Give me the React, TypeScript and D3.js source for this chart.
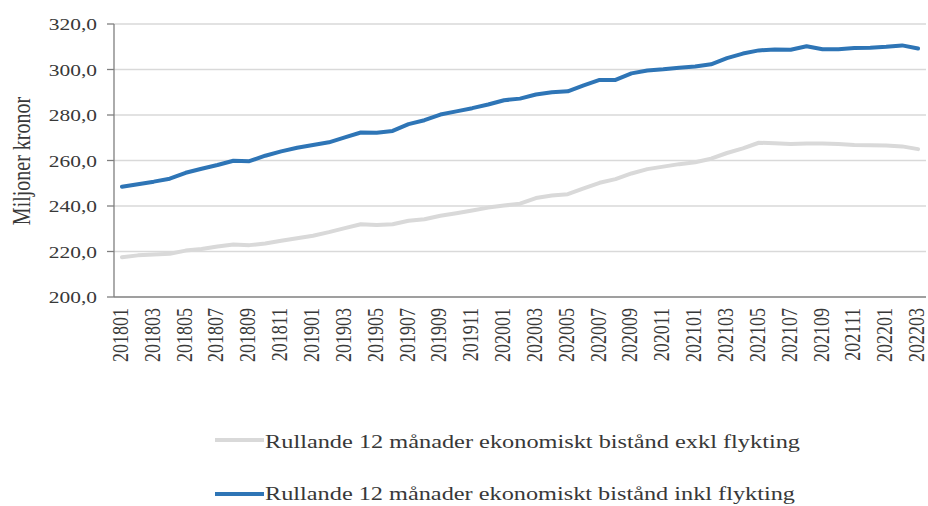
import React from "react";
import * as d3 from "d3";

const months: string[] = [
  "201801","201802","201803","201804","201805","201806","201807","201808","201809","201810","201811","201812",
  "201901","201902","201903","201904","201905","201906","201907","201908","201909","201910","201911","201912",
  "202001","202002","202003","202004","202005","202006","202007","202008","202009","202010","202011","202012",
  "202101","202102","202103","202104","202105","202106","202107","202108","202109","202110","202111","202112",
  "202201","202202","202203",
];

const inklFlykting: number[] = [
  248.5, 249.6, 250.7, 252.0, 254.6, 256.4, 258.0, 259.9, 259.7, 262.1, 264.0, 265.6,
  266.8, 268.0, 270.2, 272.3, 272.2, 273.0, 276.0, 277.7, 280.2, 281.6, 283.0, 284.6,
  286.5, 287.2, 289.0, 290.0, 290.4, 293.0, 295.4, 295.4, 298.3, 299.6, 300.1, 300.8,
  301.3, 302.3, 305.0, 307.0, 308.4, 308.8, 308.7, 310.2, 308.9, 308.9, 309.4, 309.6,
  310.0, 310.6, 309.2,
];

const exklFlykting: number[] = [
  217.5, 218.3, 218.7, 219.0, 220.4, 221.1, 222.2, 223.1, 222.8, 223.5, 224.7, 225.8,
  226.9, 228.5, 230.3, 232.0, 231.6, 232.0, 233.5, 234.2, 235.7, 236.8, 238.0, 239.3,
  240.2, 241.0, 243.5, 244.6, 245.2, 247.7, 250.2, 251.8, 254.3, 256.2, 257.3, 258.4,
  259.2, 260.8, 263.3, 265.3, 267.8, 267.6, 267.2, 267.5, 267.5, 267.2, 266.8, 266.7,
  266.6, 266.2, 265.0,
];

const yTicks: number[] = [200, 220, 240, 260, 280, 300, 320];

const seriesNames: string[] = [
  "Rullande 12 månader ekonomiskt bistånd exkl flykting",
  "Rullande 12 månader ekonomiskt bistånd inkl flykting",
];

const W = 928;
const H = 506;
const left = 114;
const right = 926;
const top = 24;
const bottom = 297;
const font = "'Liberation Serif', 'Times New Roman', serif";
const textColor = "#383838";
const gray = "#d9d9d9";
const blue = "#2e75b6";

export default function App() {
  const x = d3.scalePoint<string>().domain(months).range([left, right]).padding(0.5);
  const y = d3.scaleLinear().domain([200, 320]).range([bottom, top]);
  const line = d3
    .line<number>()
    .x((_, i) => x(months[i]) as number)
    .y((d) => y(d));
  const fmt = (v: number) => v.toFixed(1).replace(".", ",");
  const labelMonths = months.filter((_, i) => i % 2 === 0);

  return (
    <div style={{ position: "fixed", left: 0, top: 0 }}>
      <svg width={W} height={H} style={{ display: "block", background: "#fff" }}>
        {/* gridlines */}
        {yTicks.filter((t) => t !== 200).map((t) => (
          <line key={t} x1={left} x2={right} y1={y(t)} y2={y(t)} stroke="#d9d9d9" strokeWidth={1.3} />
        ))}
        {/* y axis */}
        <line x1={left} x2={left} y1={top} y2={bottom} stroke="#7f7f7f" strokeWidth={1.3} />
        {yTicks.map((t) => (
          <g key={"yt" + t}>
            <line x1={left - 7} x2={left} y1={y(t)} y2={y(t)} stroke="#7f7f7f" strokeWidth={1.3} />
            <text
              transform={`translate(${97},${y(t) + 6}) scale(1.3,1)`}
              textAnchor="end"
              fontFamily={font}
              fontSize={16.5}
              fill={textColor}
            >
              {fmt(t)}
            </text>
          </g>
        ))}
        {/* x axis */}
        <line x1={left} x2={right} y1={bottom} y2={bottom} stroke="#7f7f7f" strokeWidth={1.3} />
        {labelMonths.map((m) => (
          <text
            key={m}
            transform={`translate(${(x(m) as number) + 6},${308}) scale(1.25,1) rotate(-90)`}
            textAnchor="end"
            fontFamily={font}
            fontSize={18}
            fill={textColor}
          >
            {m}
          </text>
        ))}
        {/* y title */}
        <text
          transform={`translate(${30},${161}) scale(1.3,1) rotate(-90)`}
          textAnchor="middle"
          fontFamily={font}
          fontSize={20}
          fill={textColor}
        >
          Miljoner kronor
        </text>
        {/* series */}
        <path d={line(exklFlykting) || ""} fill="none" stroke={gray} strokeWidth={4} strokeLinejoin="round" strokeLinecap="round" />
        <path d={line(inklFlykting) || ""} fill="none" stroke={blue} strokeWidth={4} strokeLinejoin="round" strokeLinecap="round" />
        {/* legend */}
        {seriesNames.map((name, i) => {
          const ly = i === 0 ? 440 : 494;
          return (
            <g key={name}>
              <line x1={215} x2={264} y1={ly} y2={ly} stroke={i === 0 ? gray : blue} strokeWidth={4} />
              <text
                x={265}
                y={i === 0 ? ly + 8 : 500}
                fontFamily={font}
                fontSize={19.5}
                fill={textColor}
                textLength={i === 0 ? 535 : 530}
                lengthAdjust="spacingAndGlyphs"
              >
                {name}
              </text>
            </g>
          );
        })}
      </svg>
    </div>
  );
}
